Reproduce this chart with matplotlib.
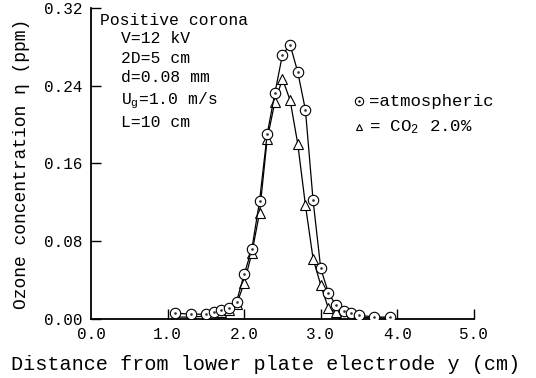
import matplotlib
matplotlib.use('Agg')
import matplotlib.pyplot as plt

plt.rcParams['font.family'] = ['Liberation Mono', 'DejaVu Sans Mono']
plt.rcParams['mathtext.fontset'] = 'custom'
plt.rcParams['mathtext.rm'] = 'Liberation Mono'
plt.rcParams['mathtext.it'] = 'Liberation Mono'

# 距离 y (cm)
y_pos = [1.1, 1.3, 1.5, 1.6, 1.7, 1.8, 1.9, 2.0, 2.1, 2.2, 2.3, 2.4, 2.5,
         2.6, 2.7, 2.8, 2.9, 3.0, 3.1, 3.2, 3.3, 3.4, 3.5, 3.7, 3.9]
# 大气
atmos = [0.006, 0.005, 0.005, 0.007, 0.009, 0.011, 0.018, 0.046, 0.072, 0.121,
         0.190, 0.232, 0.272, 0.282, 0.254, 0.215, 0.122, 0.052, 0.027, 0.014,
         0.008, 0.006, 0.004, 0.002, 0.002]
# CO2 2.0%
co2 = [0.002, 0.002, 0.003, 0.005, 0.007, 0.009, 0.015, 0.037, 0.068, 0.109,
       0.185, 0.223, 0.247, 0.225, 0.180, 0.117, 0.062, 0.035, 0.011, 0.007,
       0.004, 0.003, 0.002, 0.001, 0.001]

xticks = [1.0, 2.0, 3.0, 4.0, 5.0]
xtick_labels = ['0.0', '1.0', '2.0', '3.0', '4.0', '5.0']
yticks = [0.00, 0.08, 0.16, 0.24, 0.32]

fig = plt.figure(figsize=(5.36, 3.78), dpi=100)
ax = fig.add_axes([0.170, 0.156, 0.714, 0.823])

ax.plot(y_pos, atmos, '-', color='black', lw=0.9, marker='o', ms=7.5,
        mfc='white', mec='black', mew=0.8, zorder=3)
ax.plot(y_pos, atmos, '.', color='#333333', ms=1.8, zorder=4)
ax.plot(y_pos, co2, '-', color='black', lw=0.9, marker='^', ms=6.5,
        mfc='white', mec='black', mew=0.8, zorder=2)

ax.set_xlim(0, 5.0)
ax.set_ylim(0, 0.32)
ax.spines['top'].set_visible(False)
ax.spines['right'].set_visible(False)
for s in ['left', 'bottom']:
    ax.spines[s].set_linewidth(1.3)

ax.set_xticks([0.0] + xticks)
ax.set_xticklabels(xtick_labels)
ax.set_yticks(yticks)
ax.set_yticklabels(['%.2f' % v for v in yticks])
ax.tick_params(axis='both', direction='in', length=7, width=1.0,
               labelsize=11.5, pad=6)
ax.xaxis.get_major_ticks()[0].tick1line.set_visible(False)

ax.set_xlabel('Distance from lower plate electrode y (cm)', fontsize=14.5,
              labelpad=10)
ax.xaxis.set_label_coords(0.455, -0.115)
ax.set_ylabel('Ozone concentration η (ppm)', fontsize=13, labelpad=10)

# 条件说明
ax.text(0.023, 0.985, 'Positive corona', transform=ax.transAxes,
        fontsize=11.8, va='top')
cond = ['V=12 kV', '2D=5 cm', 'd=0.08 mm', 'U$_{\\rm g}$=1.0 m/s', 'L=10 cm']
cond_y = [0.925, 0.862, 0.800, 0.735, 0.655]
for t, yy in zip(cond, cond_y):
    ax.text(0.077, yy, t, transform=ax.transAxes, fontsize=11.8, va='top')

# 图例
ax.plot([0.700], [0.700], 'o', ms=6, mfc='white', mec='black', mew=0.8,
        transform=ax.transAxes, clip_on=False)
ax.plot([0.700], [0.700], '.', ms=1.5, color='black',
        transform=ax.transAxes, clip_on=False)
ax.text(0.725, 0.700, '=atmospheric', transform=ax.transAxes, fontsize=12.5,
        va='center')
ax.plot([0.700], [0.617], '^', ms=5, mfc='white', mec='black', mew=0.8,
        transform=ax.transAxes, clip_on=False)
ax.text(0.725, 0.617, '= CO$_2$ 2.0%', transform=ax.transAxes, fontsize=12.5,
        va='center')

fig.savefig('out.png', dpi=100)
